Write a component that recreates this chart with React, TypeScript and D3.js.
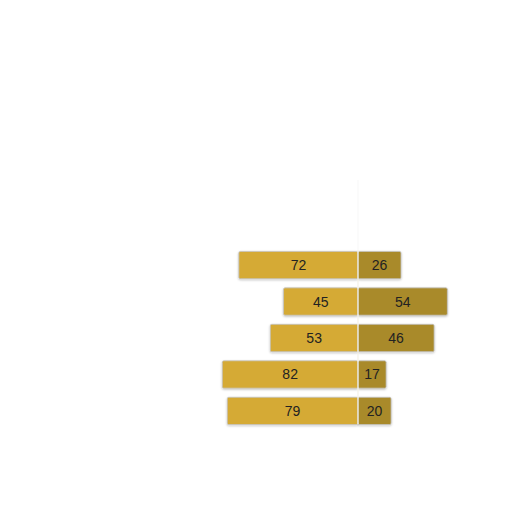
import React, { useEffect, useRef } from "react";
import * as d3 from "d3";

const rows = ["r1", "r2", "r3", "r4", "r5"];
const leftValues = [72, 45, 53, 82, 79];
const rightValues = [26, 54, 46, 17, 20];

const App: React.FC = () => {
  const ref = useRef<SVGSVGElement>(null);

  useEffect(() => {
    if (!ref.current) return;
    const svg = d3.select(ref.current);
    svg.selectAll("*").remove();

    const center = 358;
    const x = d3.scaleLinear().domain([0, 100]).range([0, 165.5]);
    const y = d3
      .scaleBand()
      .domain(rows)
      .range([247, 429])
      .paddingInner(0.25)
      .paddingOuter(0.12);

    const data = rows.map((r, i) => ({
      row: r,
      left: leftValues[i],
      right: rightValues[i],
    }));

    const defs = svg.append("defs");
    const f = defs
      .append("filter")
      .attr("id", "shadow")
      .attr("x", "-10%")
      .attr("y", "-30%")
      .attr("width", "120%")
      .attr("height", "160%");
    f.append("feDropShadow")
      .attr("dx", 0)
      .attr("dy", 1)
      .attr("stdDeviation", 1)
      .attr("flood-color", "#000")
      .attr("flood-opacity", 0.25);

    const g = svg.append("g");

    // faint divider above the bars
    g.append("line")
      .attr("x1", center)
      .attr("x2", center)
      .attr("y1", 180)
      .attr("y2", 250)
      .attr("stroke", "#f7f7f7")
      .attr("stroke-width", 1);

    const bars = g
      .selectAll("g.row")
      .data(data)
      .enter()
      .append("g")
      .attr("class", "row")
      .attr("filter", "url(#shadow)");

    bars
      .append("rect")
      .attr("x", (d) => center - x(d.left))
      .attr("y", (d) => y(d.row) || 0)
      .attr("width", (d) => x(d.left))
      .attr("height", y.bandwidth())
      .attr("rx", 1.5)
      .attr("fill", "#D5AA36")
      .attr("stroke", "#c4c4c4")
      .attr("stroke-width", 0.8);

    bars
      .append("rect")
      .attr("x", center)
      .attr("y", (d) => y(d.row) || 0)
      .attr("width", (d) => x(d.right))
      .attr("height", y.bandwidth())
      .attr("rx", 1.5)
      .attr("fill", "#A98A2C")
      .attr("stroke", "#c4c4c4")
      .attr("stroke-width", 0.8);

    // center divider through the bars
    g.append("line")
      .attr("x1", center)
      .attr("x2", center)
      .attr("y1", 250)
      .attr("y2", 424)
      .attr("stroke", "#f4f1e6")
      .attr("stroke-width", 1.2);

    const labelStyle = (sel: any) =>
      sel
        .attr("text-anchor", "middle")
        .attr("dominant-baseline", "central")
        .style("font-family", "'Liberation Sans', Arial, sans-serif")
        .style("font-size", "14px")
        .attr("fill", "#222");

    g.selectAll("text.left")
      .data(data)
      .enter()
      .append("text")
      .attr("class", "left")
      .attr("x", (d) => center - x(d.left) / 2)
      .attr("y", (d) => (y(d.row) || 0) + y.bandwidth() / 2)
      .call(labelStyle)
      .text((d) => d.left);

    g.selectAll("text.right")
      .data(data)
      .enter()
      .append("text")
      .attr("class", "right")
      .attr("x", (d) => center + x(d.right) / 2)
      .attr("y", (d) => (y(d.row) || 0) + y.bandwidth() / 2)
      .call(labelStyle)
      .text((d) => d.right);
  }, []);

  return (
    <svg
      ref={ref}
      width={512}
      height={512}
      style={{ position: "absolute", left: 0, top: 0, background: "#fff" }}
    />
  );
};

export default App;
